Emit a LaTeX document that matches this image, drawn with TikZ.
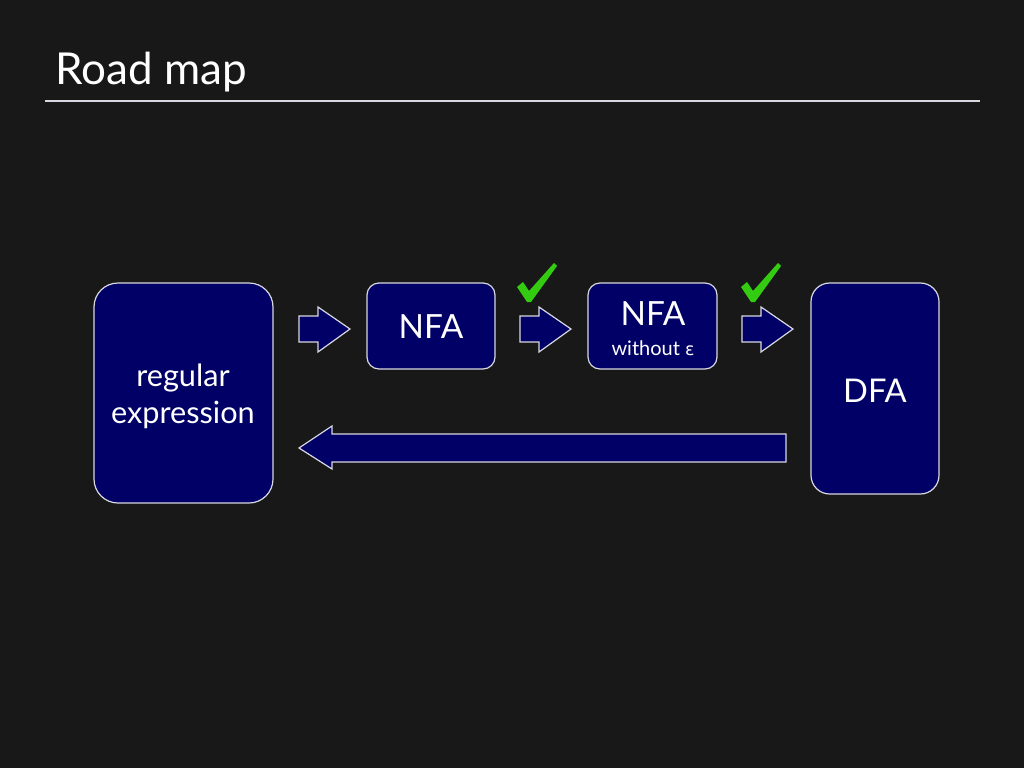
\documentclass[tikz,border=0pt]{standalone}
\usepackage{fontspec}
\setmainfont{Lato}
\newfontfamily\greekfont{DejaVu Sans}
\definecolor{bg}{HTML}{181818}
\definecolor{navy}{HTML}{000066}
\definecolor{edge}{HTML}{D8D8E0}
\definecolor{checkgreen}{HTML}{33CC11}
\tikzset{
  box/.style={draw=edge, line width=0.9pt, fill=navy, rounded corners=#1},
  box/.default=10pt,
  blockarrow/.style={draw=edge, line width=0.9pt, fill=navy, line join=miter},
  check/.style={fill=checkgreen},
  lbl/.style={text=white, align=center, inner sep=0pt},
}
\begin{document}
\begin{tikzpicture}[x=0.75pt, y=-0.75pt]
\fill[bg] (0,0) rectangle (1024,768);
\useasboundingbox (0,0) rectangle (1024,768);
% title
\node[anchor=base west, text=white, font=\fontsize{33}{36}\selectfont, inner sep=0pt] (title) at (55,84) {Road map};
\coordinate (rulel) at (45,101);
\coordinate (ruler) at (980,101);
\draw[edge, line width=1.1pt] (rulel) -- (ruler);
% boxes
\draw[box=18pt] (94,283) rectangle (273,503);
\node[lbl, font=\fontsize{23}{28}\selectfont] (re) at (183,396) {regular\\expression};
\draw[box=9pt] (367,283) rectangle (495,369);
\node[lbl, font=\fontsize{25}{28}\selectfont] (nfa) at (431,327) {NFA};
\draw[box=9pt] (588,283) rectangle (717,369);
\node[lbl, font=\fontsize{25}{28}\selectfont] (nfa2) at (653,314) {NFA};
\node[lbl, font=\fontsize{15}{18}\selectfont] (without) at (653,348) {without {\greekfont\fontsize{13}{16}\selectfont ε}};
\draw[box=14pt] (811,283) rectangle (939,494);
\node[lbl, font=\fontsize{24.5}{28}\selectfont] (dfa) at (875,391) {DFA};
% small arrows
\foreach \x in {299,520,742}{
  \draw[blockarrow] (\x,316) -- (\x+19,316) -- (\x+19,307) -- (\x+51,329) -- (\x+19,352) -- (\x+19,342) -- (\x,342) -- cycle;
}
% long back arrow
\draw[blockarrow] (786,434) -- (332,434) -- (332,426) -- (299,448) -- (332,469) -- (332,462) -- (786,462) -- cycle;
% check marks
\foreach \x in {0,224}{
  \begin{scope}[xshift=\x*0.75pt]
  \fill[check] (517,287) -- (523,282) -- (529,291) -- (554,263) -- (557,266) -- (531,302) -- (527,302) -- cycle;
  \end{scope}
}
\end{tikzpicture}
\end{document}
